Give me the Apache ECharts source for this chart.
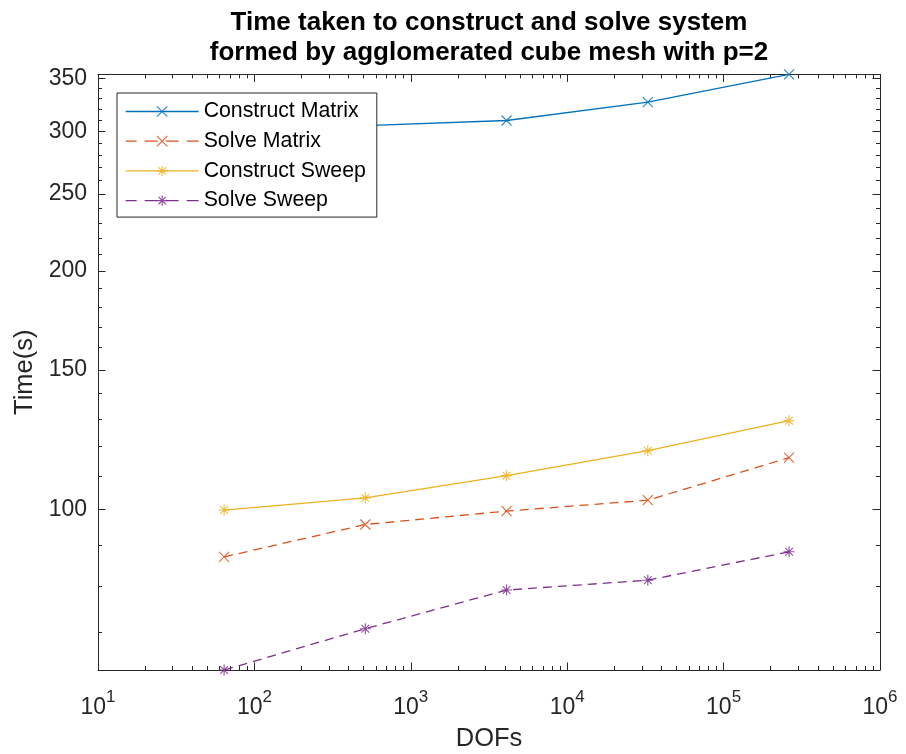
<!DOCTYPE html>
<html>
<head>
<meta charset="utf-8">
<script src="https://cdn.jsdelivr.net/npm/echarts@6/dist/echarts.min.js"></script>
<style>
  html, body { margin: 0; padding: 0; background: #ffffff; }
  #chart { width: 906px; height: 754px; }
</style>
</head>
<body>
<div id="chart"></div>
<script>
// Degrees of freedom for each refinement level
const dofs = [64, 512, 4096, 32768, 262144];

// Timings in seconds
const constructMatrix = [298, 305, 309.6, 326.6, 354];
const solveMatrix = [87.1, 95.7, 99.5, 102.7, 116.2];
const constructSweep = [99.8, 103.4, 110.3, 118.6, 129.4];
const solveSweep = [62.7, 70.7, 79.1, 81.4, 88.4];

const seriesNames = ['Construct Matrix', 'Solve Matrix', 'Construct Sweep', 'Solve Sweep'];

// Axis ticks
const xTickValues = [10, 100, 1000, 10000, 100000, 1000000];
const yTickValues = [100, 150, 200, 250, 300, 350];

// Minor ticks: 2..9 within each decade on x, every 10 s on y
const xMinorTickValues = [];
for (let d = 10; d < 1000000; d *= 10) {
  for (let k = 2; k <= 9; k++) xMinorTickValues.push(k * d);
}
const yMinorTickValues = [];
for (let v = 70; v <= 340; v += 10) {
  if (v % 50 !== 0) yMinorTickValues.push(v);
}

const colors = ['#0072BD', '#D95319', '#EDB120', '#7E2F8E'];
const crossMark = 'path://M0,0L10,10M10,0L0,10';
const starMark = 'path://M5,0L5,10M0,5L10,5M1.5,1.5L8.5,8.5M8.5,1.5L1.5,8.5';

const allTimes = [].concat(constructMatrix, solveMatrix, constructSweep, solveSweep);
const yMin = Math.min.apply(null, allTimes);
const yMax = Math.max.apply(null, allTimes);

const axisColor = '#262626';
const fontFamily = '"Liberation Sans", Arial, Helvetica, sans-serif';

function xAxisDef(position, major) {
  return {
    type: 'log', logBase: 10, min: 10, max: 1000000, position: position,
    axisLine: { show: major, onZero: false, lineStyle: { color: axisColor, width: 1 } },
    axisTick: {
      show: true, inside: true, length: major ? 7.5 : 4,
      customValues: major ? xTickValues : xMinorTickValues,
      lineStyle: { color: axisColor, width: 1 }
    },
    axisLabel: { show: false },
    splitLine: { show: false },
    minorTick: { show: false }
  };
}
function yAxisDef(position, major) {
  return {
    type: 'log', logBase: 10, min: yMin, max: yMax, position: position,
    axisLine: { show: major, onZero: false, lineStyle: { color: axisColor, width: 1 } },
    axisTick: {
      show: true, inside: true, length: major ? 7.5 : 4,
      customValues: major ? yTickValues : yMinorTickValues,
      lineStyle: { color: axisColor, width: 1 }
    },
    axisLabel: { show: false },
    splitLine: { show: false },
    minorTick: { show: false }
  };
}

// Bottom axis carries the labels and the name
const xBottom = xAxisDef('bottom', true);
xBottom.axisLabel = {
  show: true,
  customValues: xTickValues,
  margin: 19,
  color: axisColor,
  fontFamily: fontFamily,
  formatter: function (v) {
    return '{b|10}{s|' + Math.round(Math.log10(v)) + '}';
  },
  rich: {
    b: { fontSize: 23, lineHeight: 30, verticalAlign: 'bottom', color: axisColor, fontFamily: fontFamily },
    s: { fontSize: 17, lineHeight: 17, verticalAlign: 'top', color: axisColor, fontFamily: fontFamily }
  }
};
xBottom.name = 'DOFs';
xBottom.nameLocation = 'middle';
xBottom.nameGap = 56;
xBottom.nameTextStyle = { fontSize: 25.5, color: axisColor, fontFamily: fontFamily };

const yLeft = yAxisDef('left', true);
yLeft.axisLabel = {
  show: true,
  customValues: yTickValues,
  margin: 11,
  fontSize: 23,
  color: axisColor,
  fontFamily: fontFamily,
  formatter: function (v) { return String(Math.round(v)); }
};
yLeft.name = 'Time(s)';
yLeft.nameLocation = 'middle';
yLeft.nameGap = 60;
yLeft.nameTextStyle = { fontSize: 25.5, color: axisColor, fontFamily: fontFamily };

const seriesValues = [constructMatrix, solveMatrix, constructSweep, solveSweep];
const seriesMarks = [crossMark, crossMark, starMark, starMark];
const seriesDashed = [false, true, false, true];
const seriesSizes = [10, 10, 11, 11];

const series = seriesNames.map(function (name, i) {
  return {
    name: name,
    type: 'line',
    xAxisIndex: 0,
    yAxisIndex: 0,
    data: dofs.map(function (d, j) { return [d, seriesValues[i][j]]; }),
    symbol: seriesMarks[i],
    symbolSize: seriesSizes[i],
    showAllSymbol: true,
    clip: false,
    lineStyle: { color: colors[i], width: 1.3, type: seriesDashed[i] ? [9, 6] : 'solid' },
    itemStyle: { color: colors[i], borderColor: colors[i], borderWidth: 1.1, opacity: 0.85 },
    emphasis: { disabled: true },
    z: 3
  };
});

// Legend entries: longer dashes in the sample lines
const legendData = seriesNames.map(function (name, i) {
  return seriesDashed[i]
    ? { name: name, lineStyle: { type: [13, 8], dashOffset: 2 } }
    : { name: name };
});

const chart = echarts.init(document.getElementById('chart'), null, { renderer: 'canvas' });
chart.setOption({
  animation: false,
  backgroundColor: '#ffffff',
  textStyle: { fontFamily: fontFamily },
  title: {
    text: 'Time taken to construct and solve system\nformed by agglomerated cube mesh with p=2',
    left: 489,
    top: 8,
    textAlign: 'center',
    padding: 0,
    textStyle: { fontSize: 26, fontWeight: 'bold', lineHeight: 30, color: '#000000', fontFamily: fontFamily }
  },
  legend: {
    orient: 'vertical',
    left: 117,
    top: 93,
    padding: [8, 11, 6, 8],
    itemGap: 8.7,
    itemWidth: 73,
    itemHeight: 13,
    backgroundColor: '#ffffff',
    borderColor: axisColor,
    borderWidth: 1,
    selectedMode: false,
    textStyle: { fontSize: 21.3, color: '#000000', fontFamily: fontFamily },
    lineStyle: { width: 1.3 },
    itemStyle: { borderWidth: 1.1 },
    data: legendData
  },
  grid: {
    left: 98, right: 26, top: 74.4, bottom: 84,
    containLabel: false,
    outerBoundsMode: 'none'
  },
  xAxis: [xBottom, xAxisDef('bottom', false), xAxisDef('top', true), xAxisDef('top', false)],
  yAxis: [yLeft, yAxisDef('left', false), yAxisDef('right', true), yAxisDef('right', false)],
  series: series
});
</script>
</body>
</html>
